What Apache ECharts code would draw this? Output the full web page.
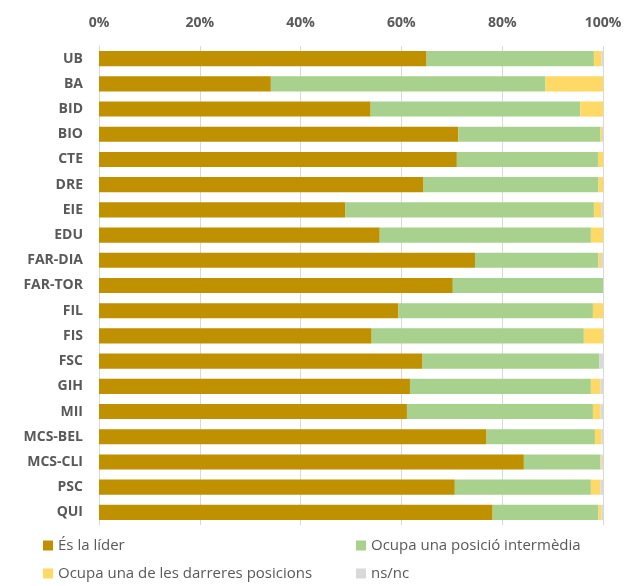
<!DOCTYPE html>
<html><head><meta charset="utf-8">
<script src="https://cdn.jsdelivr.net/npm/echarts@6/dist/echarts.min.js"></script>
<style>html,body{margin:0;padding:0;background:#fff}#c{width:626px;height:586px}</style>
</head><body><div id="c"></div>
<script>
const categories = ['UB','BA','BID','BIO','CTE','DRE','EIE','EDU','FAR-DIA','FAR-TOR','FIL','FIS','FSC','GIH','MII','MCS-BEL','MCS-CLI','PSC','QUI'];
const seriesNames = ['És la líder','Ocupa una posició intermèdia','Ocupa una de les darreres posicions','ns/nc'];
const lider =      [65.0,34.1,53.9,71.3,71.0,64.4,48.9,55.7,74.6,70.2,59.4,54.1,64.2,61.7,61.1,76.9,84.3,70.6,78.1];
const intermedia = [33.2,54.5,41.6,28.2,28.0,34.7,49.3,41.9,24.5,29.8,38.6,42.1,35.1,35.9,36.9,21.5,15.2,27.0,21.0];
const darreres =   [1.5,11.4,4.5,0.3,1.0,0.9,1.5,2.4,0.5,0,2.0,3.8,0,1.9,1.5,1.3,0.2,1.9,0.6];
const nsnc =       [0.3,0,0,0.2,0,0,0.3,0,0.4,0,0,0,0.7,0.5,0.5,0.3,0.3,0.5,0.3];
const tickLabels = ['0%','20%','40%','60%','80%','100%'];
const colors = ['#BF9000','#A9D18E','#FFD966','#D9D9D9'];
const values = [lider, intermedia, darreres, nsnc];
const font = '"Open Sans", Lato, sans-serif';
const chart = echarts.init(document.getElementById('c'));
const legendPos = [[38,533],[351,533],[38,561],[351,561]];
chart.setOption({
  animation:false,
  color: colors,
  grid:{left:99,right:23,top:46,bottom:61,containLabel:false},
  xAxis:{type:'value',position:'top',min:0,max:100,interval:20,
    axisLabel:{formatter:(v)=>tickLabels[v/20],color:'#595959',fontWeight:'bold',fontSize:14,fontFamily:font,margin:16},
    splitLine:{show:true,lineStyle:{color:'#D9D9D9',width:1}},
    axisLine:{show:false},axisTick:{show:false}},
  yAxis:{type:'category',data:categories,inverse:true,
    axisLabel:{color:'#595959',fontWeight:'bold',fontSize:14,fontFamily:font,margin:16},
    axisLine:{show:true,lineStyle:{color:'#D9D9D9',width:1}},axisTick:{show:false}},
  legend: seriesNames.map((n,i)=>({data:[n],left:legendPos[i][0],top:legendPos[i][1],itemWidth:10,itemHeight:10,itemGap:3,
    icon:'rect',textStyle:{color:'#595959',fontSize:15,fontFamily:font}})),
  series: seriesNames.map((n,i)=>({name:n,type:'bar',stack:'t',data:values[i],barCategoryGap:'40%',
    itemStyle:{color:colors[i]}}))
});
</script></body></html>
